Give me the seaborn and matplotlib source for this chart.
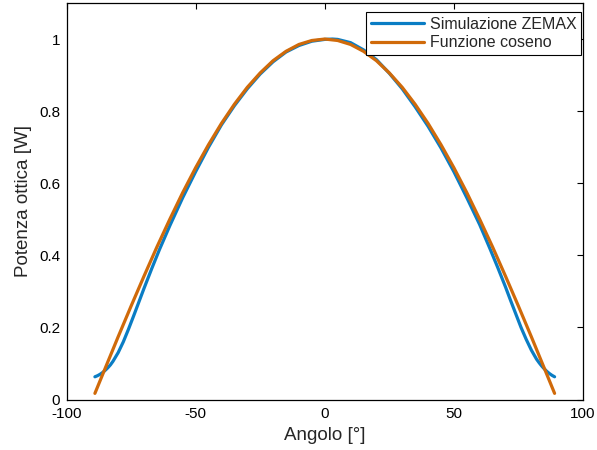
import numpy as np
import pandas as pd
import matplotlib
matplotlib.use("Agg")
import matplotlib.pyplot as plt
import seaborn as sns
from matplotlib.lines import Line2D

# Data
angles_sim = [-89, -88, -87, -86, -85, -84, -83, -82, -80, -78, -76, -74, -72, -70, -67,
              -64, -60, -55, -50, -45, -40, -35, -30, -25, -20, -15, -10, -5, 0, 3, 5,
              10, 15, 20, 25, 30, 35, 40, 45, 50, 55, 60, 64, 67, 70, 72, 74, 76, 78,
              80, 82, 83, 84, 85, 86, 87, 88, 89]
power_sim = [0.063, 0.066, 0.070, 0.075, 0.081, 0.088, 0.096, 0.106, 0.130, 0.160, 0.195,
             0.232, 0.270, 0.308, 0.363, 0.416, 0.482, 0.560, 0.632, 0.700, 0.762, 0.815,
             0.862, 0.903, 0.937, 0.964, 0.982, 0.994, 0.999, 1.000, 0.999, 0.990, 0.970,
             0.943, 0.905, 0.862, 0.812, 0.758, 0.698, 0.632, 0.560, 0.485, 0.418, 0.366,
             0.312, 0.274, 0.237, 0.200, 0.167, 0.137, 0.112, 0.102, 0.093, 0.085, 0.078,
             0.072, 0.067, 0.063]

angles_cos = [-89, -85, -80, -75, -70, -65, -60, -55, -50, -45, -40, -35, -30, -25, -20,
              -15, -10, -5, 0, 5, 10, 15, 20, 25, 30, 35, 40, 45, 50, 55, 60, 65, 70,
              75, 80, 85, 89]
power_cos = [0.017, 0.087, 0.174, 0.259, 0.342, 0.423, 0.500, 0.574, 0.643, 0.707, 0.766,
             0.819, 0.866, 0.906, 0.940, 0.966, 0.985, 0.996, 1.000, 0.996, 0.985, 0.966,
             0.940, 0.906, 0.866, 0.819, 0.766, 0.707, 0.643, 0.574, 0.500, 0.423, 0.342,
             0.259, 0.174, 0.087, 0.017]

series_names = ["Simulazione ZEMAX", "Funzione coseno"]
x_ticks = [-100, -50, 0, 50, 100]
y_ticks = [0, 0.2, 0.4, 0.6, 0.8, 1]
y_tick_labels = ["0", "0.2", "0.4", "0.6", "0.8", "1"]

df = pd.concat([
    pd.DataFrame({"Angolo": angles_sim, "Potenza": power_sim, "serie": series_names[0]}),
    pd.DataFrame({"Angolo": angles_cos, "Potenza": power_cos, "serie": series_names[1]}),
], ignore_index=True)

sns.set_theme(style="white")
plt.rcParams["font.family"] = ["Liberation Sans", "DejaVu Sans"]
plt.rcParams["axes.unicode_minus"] = False

fig = plt.figure(figsize=(5.97, 4.5), dpi=100)
ax = fig.add_axes([66.5 / 597, 50.5 / 450, (583 - 66.5) / 597, (399.5 - 3) / 450])

palette = {series_names[0]: "#0A7DC4", series_names[1]: "#D06A0A"}
sns.lineplot(data=df, x="Angolo", y="Potenza", hue="serie", palette=palette,
             sort=False, estimator=None, linewidth=2.3, ax=ax, legend=False)

ax.set_xlim(-100, 100)
ax.set_ylim(0, 1.1)
ax.set_xticks(x_ticks)
ax.set_xticklabels([str(t) for t in x_ticks])
ax.set_yticks(y_ticks)
ax.set_yticklabels(y_tick_labels)
ax.tick_params(direction="in", length=4, width=0.8, top=True, right=True,
               labelsize=11, colors="black")
ax.tick_params(axis="x", pad=5.5)
ax.tick_params(axis="y", pad=4.5)
for s in ax.spines.values():
    s.set_visible(True)
    s.set_color("black")
    s.set_linewidth(0.9)

ax.set_xlabel("Angolo [°]", fontsize=13.5, labelpad=4)
ax.set_ylabel("Potenza ottica [W]", fontsize=13.5, labelpad=5)

handles = [Line2D([0], [0], color=palette[n], lw=2.3) for n in series_names]
leg = ax.legend(handles, series_names, loc="upper right", fontsize=11.5,
                frameon=True, fancybox=False, edgecolor="black", framealpha=1,
                borderpad=0.3, labelspacing=0.2, handlelength=3.3, handletextpad=0.4,
                borderaxespad=0.0, bbox_to_anchor=(0.997, 0.977))
leg.get_frame().set_linewidth(0.8)

fig.savefig("out.png", dpi=100)
